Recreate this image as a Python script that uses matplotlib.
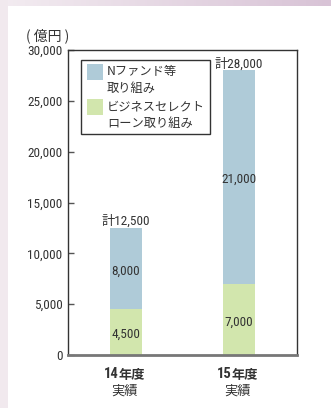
import matplotlib
matplotlib.use("Agg")
import matplotlib.pyplot as plt
from matplotlib.patches import Rectangle
from matplotlib.colors import LinearSegmentedColormap
import numpy as np

NUMF = ['Roboto Condensed', 'Noto Sans CJK JP', 'DejaVu Sans']
JPF = ['Noto Sans CJK JP', 'DejaVu Sans']
plt.rcParams['font.family'] = NUMF

categories_year = ["14", "15"]
categories_sub = ["実績", "実績"]
green_vals = [4500, 7000]
blue_vals = [8000, 21000]
totals = [12500, 28000]
yticks = [0, 5000, 10000, 15000, 20000, 25000, 30000]
series_names = ["Nファンド等\n取り組み", "ビジネスセレクト\nローン取り組み"]
unit_label = "( 億円 )"

BLUE = "#afcbd8"
GREEN = "#d2e6ad"
TXT = "#333333"

fig = plt.figure(figsize=(3.31, 4.08), dpi=100)
W, H = 331, 408

# background decoration
bg = fig.add_axes([0, 0, 1, 1], zorder=-10)
bg.axis('off')
grad = np.linspace(0, 1, 256)[None, :]
cmap = LinearSegmentedColormap.from_list("g", ["#f3ecf1", "#d8c3d6"])
bg.imshow(grad, extent=[0, W, 6, 0], aspect='auto', cmap=cmap)
bg.add_patch(Rectangle((0, 0), 8, H, color="#f1e9ee", lw=0))
bg.set_xlim(0, W); bg.set_ylim(H, 0)

ax = fig.add_axes([68 / W, 1 - 355 / H, 229 / W, 305 / H])
x = np.arange(len(green_vals))
bw = 0.283
ax.bar(x, green_vals, bw, color=GREEN, zorder=2)
ax.bar(x, blue_vals, bw, bottom=green_vals, color=BLUE, zorder=2)
ax.set_xlim(-0.513, 1.513)
ax.set_ylim(0, 30000)
ax.set_yticks(yticks)
ax.set_yticklabels([f"{v:,}" for v in yticks], fontsize=9.5, color=TXT)
ax.tick_params(axis='y', direction='in', length=4.5, width=1, color="#555555", pad=4)
ax.tick_params(axis='x', length=0)
ax.set_xticks(x)
ax.set_xticklabels([""] * len(x))
for sp in ['left', 'top', 'right']:
    ax.spines[sp].set_color("#333333")
    ax.spines[sp].set_linewidth(1.0)
ax.spines['bottom'].set_color("#777777")
ax.spines['bottom'].set_linewidth(2.0)

for i in range(len(x)):
    ax.annotate(categories_year[i], xy=(i, 0), xycoords='data', xytext=(-10.5, -9),
                textcoords='offset points', ha='center', va='top', fontsize=10.5,
                fontweight='bold', color=TXT, annotation_clip=False, family=NUMF)
    ax.annotate("年度", xy=(i, 0), xycoords='data', xytext=(4.5, -9.5),
                textcoords='offset points', ha='center', va='top', fontsize=9.5,
                fontweight='bold', color=TXT, annotation_clip=False, family=JPF)
    ax.annotate(categories_sub[i], xy=(i, 0), xycoords='data', xytext=(-1, -21.5),
                textcoords='offset points', ha='center', va='top', fontsize=9.5,
                color=TXT, annotation_clip=False, family=JPF)

# value labels
for i in range(len(x)):
    ax.text(i, green_vals[i] / 2 - 250, f"{green_vals[i]:,}", ha='center', va='center',
            fontsize=9.5, color=TXT, zorder=3)
    ax.text(i, green_vals[i] + blue_vals[i] / 2 - 250, f"{blue_vals[i]:,}", ha='center',
            va='center', fontsize=9.5, color=TXT, zorder=3)
    ax.text(i, totals[i] + 650, f"計{totals[i]:,}", ha='center', va='center',
            fontsize=9.5, color=TXT, zorder=3)

fig.text(26 / W, 1 - 36 / H, unit_label, ha='left', va='center', fontsize=10, color=TXT,
         family=JPF)

# manual legend (overlay in figure pixel coords)
ov = fig.add_axes([0, 0, 1, 1], zorder=10)
ov.set_xlim(0, W); ov.set_ylim(H, 0); ov.axis('off'); ov.patch.set_alpha(0)
ov.add_patch(Rectangle((80.5, 59.5), 129, 74, facecolor='white', edgecolor='#333333', lw=1.0))
leg_colors = [BLUE, GREEN]
for k, (name, col) in enumerate(zip(series_names, leg_colors)):
    top = 64 + k * 35
    ov.add_patch(Rectangle((87, top), 16, 16, facecolor=col, edgecolor='none'))
    for j, line in enumerate(name.split("\n")):
        ov.text(107, top + 8 + j * 16.5, line, ha='left', va='center', fontsize=8.8,
                color=TXT, family=JPF)

fig.savefig("out.png", dpi=100)
